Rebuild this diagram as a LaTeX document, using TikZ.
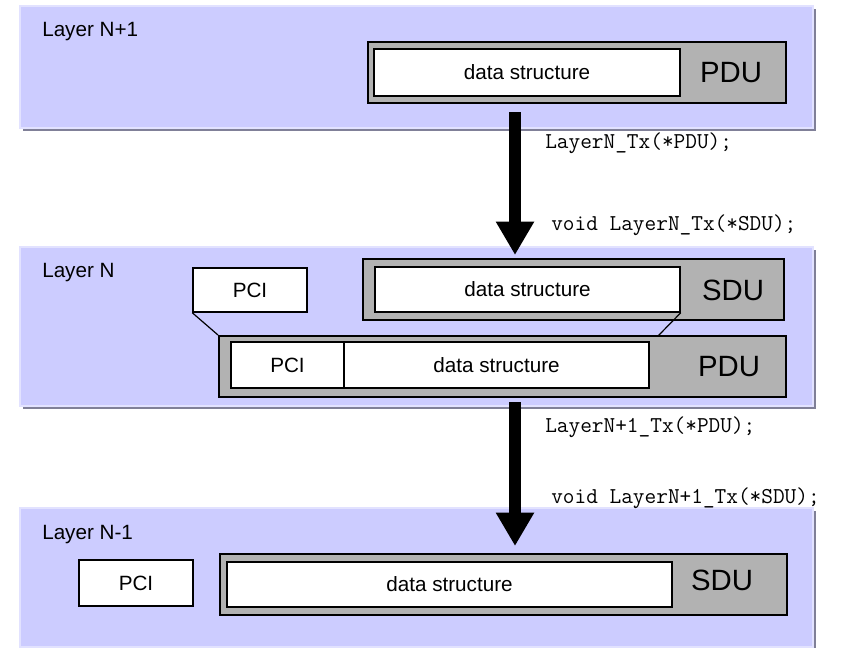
\documentclass[tikz,border=0pt]{standalone}
\usepackage{fontspec}
\setmainfont{Liberation Sans}
\usetikzlibrary{arrows.meta,fit,shadows}
\definecolor{layerfill}{RGB}{204,204,255}
\definecolor{layeredge}{RGB}{226,226,255}
\definecolor{layershade}{RGB}{128,128,152}
\definecolor{unitfill}{RGB}{178,178,178}
\begin{document}
\begin{tikzpicture}[x=0.75pt, y=-0.75pt,
  every node/.style={font=\fontsize{15.5}{18}\selectfont},
  every label/.style={font=\fontsize{15.5}{18}\selectfont, inner sep=0pt},
  layerbox/.style={fill=layerfill, draw=layeredge, line width=0.8pt, inner sep=0pt,
    drop shadow={shadow xshift=2.2pt, shadow yshift=-2.2pt, fill=layershade, opacity=1}},
  unitbox/.style={fill=unitfill, draw=black, line width=1.5pt, inner sep=0pt},
  fieldbox/.style={fill=white, draw=black, line width=1.1pt, inner sep=0pt},
  unitname/.style={font=\fontsize{22}{26}\selectfont},
  layername/.style={anchor=west, inner sep=0pt},
  callname/.style={font=\fontsize{17}{20}\ttfamily, anchor=west, inner sep=0pt},
  flowarrow/.style={line width=9pt, -{Triangle[width=27pt,length=25pt]}}]
  \useasboundingbox (0,0) rectangle (852,647);
  % Layer N+1
  \node[layerbox, fit={(20,6)(813,128)}] (layA) {};
  \node[layername] (labA) at (42,32) {Layer N+1};
  \node[unitbox, fit={(368,42)(786,103)}] (pduA) {};
  \node[fieldbox, fit={(374,49)(680,96)}, label=center:data structure] (dataA) {};
  \node[unitname] (pduAname) at (731,73) {PDU};
  % Layer N
  \node[layerbox, fit={(20,247)(813,406)}] (layB) {};
  \node[layername] (labB) at (42,273) {Layer N};
  \node[unitbox, fit={(363,259)(784,320)}] (sduB) {};
  \node[fieldbox, fit={(375,267)(680,312)}, label=center:data structure] (dataB) {};
  \node[unitname] (sduBname) at (733,290) {SDU};
  \node[fieldbox, fit={(193,268)(307,312)}, label=center:PCI] (pciB) {};
  \node[unitbox, fit={(219,336)(786,397)}] (pduB) {};
  \node[fieldbox, fit={(231,342)(344,388)}, label=center:PCI] (pciC) {};
  \node[fieldbox, fit={(344,342)(649,388)}, label=center:data structure] (dataC) {};
  \node[unitname] (pduBname) at (729,367) {PDU};
  \coordinate (cutB) at (658,336);
  \draw[line width=0.9pt] (pciB.south west) -- (pduB.north west);
  \draw[line width=0.9pt] (dataB.south east) -- (cutB);
  % Layer N-1
  \node[layerbox, fit={(20,508)(813,647)}] (layC) {};
  \node[layername] (labC) at (42,535) {Layer N-1};
  \node[fieldbox, fit={(79,560)(193,606)}, label=center:PCI] (pciD) {};
  \node[unitbox, fit={(220,554)(787,615)}] (sduD) {};
  \node[fieldbox, fit={(227,562)(672,607)}, label=center:data structure] (dataD) {};
  \node[unitname] (sduDname) at (722,580) {SDU};
  % calls between the layers
  \coordinate (downAtop) at (515,112);
  \coordinate (downAtip) at (515,255);
  \coordinate (downBtop) at (515,402);
  \coordinate (downBtip) at (515,546);
  \draw[flowarrow] (downAtop) -- (downAtip);
  \draw[flowarrow] (downBtop) -- (downBtip);
  \node[callname] (txA) at (545,143) {LayerN\_Tx(*PDU);};
  \node[callname] (rxB) at (551,225) {void LayerN\_Tx(*SDU);};
  \node[callname] (txB) at (545,427) {LayerN+1\_Tx(*PDU);};
  \node[callname] (rxC) at (551,498) {void LayerN+1\_Tx(*SDU);};
\end{tikzpicture}
\end{document}
